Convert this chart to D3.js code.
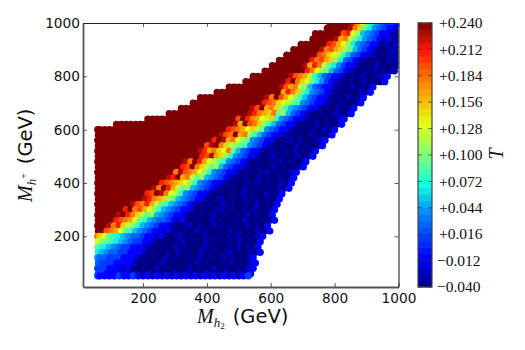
<!DOCTYPE html>
<html>
<head>
<meta charset="utf-8">
<script src="https://cdn.jsdelivr.net/npm/d3@7"></script>
<style>
html, body { margin: 0; padding: 0; background: white; }
svg { display: block; }
text { fill: #111; }
.tick text { font-family: "DejaVu Sans"; font-size: 13.7px; }
.cbar text { font-family: "Liberation Serif"; font-size: 15.5px; }
.lab { font-family: "DejaVu Sans"; font-size: 19.5px; }
.lab .m { font-family: "Liberation Serif"; font-style: italic; font-size: 20px; }
</style>
</head>
<body>
<div id="container"></div>
<script>
// values
var mh2Even = [58,65,80,95,110,125,140,155,170,185,200,215,230,245,260,275,290,305,320,335,350,365,380,395,410,425,440,455,470,485,500,515,530,545,560,575,590,605,620,635,650,665,680,695,710,725,740,755,770,785,800,815,830,845,860,875,890,905,920,935,950,965,980,995];
var mh2Odd = [60,72,87,102,117,132,147,162,177,192,207,222,237,252,267,282,297,312,327,342,357,372,387,402,417,432,447,462,477,492,507,522,537,552,567,582,597,612,627,642,657,672,687,702,717,732,747,762,777,792,807,822,837,852,867,882,897,912,927,942,957,972,987,1002];
var mhpValues = [1000,980,960,940,920,900,880,860,840,820,800,780,760,740,720,700,680,660,640,620,600,580,560,540,520,500,480,460,440,420,400,380,360,340,320,300,280,260,240,220,200,180,160,140,120,100,80,60,52];

// T per letter
var tLetters = "abcdefghijklmnopqrstu";
var tLevels = [-0.04,-0.034,-0.024,-0.008,0.012,0.026,0.04,0.052,0.066,0.08,0.094,0.108,0.12,0.134,0.15,0.165,0.18,0.195,0.21,0.228,0.24];

// first filled column of each row, then how many saturated points before the band
var rowStart = [49,48,46,45,43,41,40,38,37,35,33,31,28,25,22,20,18,15,11,4,0,0,0,0,0,0,0,0,0,0,0,0,0,0,0,0,0,0,0,0,0,0,0,0,0,0,0,0,0];
var redRun = [5,5,6,5,6,6,6,7,7,8,8,9,11,13,14,15,15,17,19,25,27,26,25,23,22,21,19,18,16,15,13,12,11,9,8,6,5,4,3,1,0,0,0,0,0,0,0,0,0];
var bandRows = [
"spnkigfeed",
"tqokigfeddc",
"rsnlhgfeddcb",
"tpqmkigfedcdbc",
"srpnligfeddbcac",
"tqrpolkhfedcbabcb",
"urqonmjhfeddcabacb",
"sqrpolifedcbabaacbc",
"tpsqmkigeddcabacabab",
"usqnlkhfedcbabacabac",
"trqpmjhfeddcabacaabcd",
"suqonkigedcbabaacabad",
"trpqmlhfeddcabacabad",
"upsqokigfedcbabaacbd",
"tqurpnljhfeddcabacabd",
"srqonmkjgfeddcbabaabd",
"trupqoljhgfeddcabacabd",
"tsqpoqklhfedcbabaacbad",
"rusqpnmojgfeddcabaabacd",
"tpurqoljhfeddbabacabaad",
"usrqpnomkgfeddcabaabacad",
"trqupqljhfeddcbabaacabad",
"sutpqnlkgfeddbabcabaabcd",
"rtuqomlkjgfedcbabaacabaad",
"tspqonqkhfeddcabaabacabad",
"usrtpoljgfeddbabcabaacabd",
"tquspnmkjgfedcabaabacabaad",
"sruqomklhfeddcbabaacabaabd",
"uqtrqpnljgfeddcabaabcabaacd",
"tsupqmklhgfedcbabaacabaabad",
"usrqponljgfeddcabaabacabaacad",
"tquspmklhgfedcbabaacabaabacad",
"srutqnmjgfeddcabaabacabaacabd",
"utsqpolkhgfeddbabcabaacabaabad",
"trqspmkjhgfedcbabaacabaabacabad",
"suqrpnljhgfeddcabaabcabaabacaabd",
"tusqomklhgfeddcbabaacabaabacabaad",
"srqpnkjhgffedcdbabaacabaabacabaabd",
"tqsomljhgfeddcbabcabaacabaabacabad",
"urqpnkjhgfeddcdbabaacabaabacabaabcad",
"qonkjihgffeddcdbabcabaacabaabacabacd",
"nlkjihgfeeddcabaabcabaacabaabacabad",
"kjihgfeedddcbabaacabaabcabaabacabad",
"ihgffeedddcabaabacabaacabaabcabacad",
"gffeeedddcbabaacabaabacabaacabaabd",
"feeeddddcabaabcabaabacabaabacabacd",
"eeedddcdbabaacabaabacabaacabaabacd",
"eedddcdcbabcabaacabcabacbabcbacbd",
"eddddeddedcdcdcdcdcdcdcdcdcdcdcde"
];

var xTicks = [200,400,600,800,1000];
var yTicks = [200,400,600,800,1000];
var cbarTicks = [-0.04,-0.012,0.016,0.044,0.072,0.1,0.128,0.156,0.184,0.212,0.24];
var cbarLabels = ["\u22120.040","\u22120.012","+0.016","+0.044","+0.072","+0.100","+0.128","+0.156","+0.184","+0.212","+0.240"];

// jet colormap stops
var jetStops = ["#00007f","#0000ff","#007fff","#16ffe0","#7dff7a","#e3ff13","#ff9800","#ff1e00","#7f0000"];
var jet = d3.scaleLinear().domain([0,0.11,0.27,0.39,0.5,0.62,0.75,0.89,1]).range(jetStops).clamp(true);
var tColor = function(t) { return jet((t + 0.04) / 0.28); };

var points = [];
bandRows.forEach(function(row, r) {
    var xs = r % 2 ? mh2Odd : mh2Even;
    var i = rowStart[r];
    for (var k = 0; k < redRun[r]; k++) {
        points.push({x: xs[i++], y: mhpValues[r], t: 0.24});
    }
    for (var c = 0; c < row.length; c++) {
        points.push({x: xs[i++], y: mhpValues[r], t: tLevels[tLetters.indexOf(row[c])]});
    }
});

var svg = d3.select("#container").append("svg")
    .attr("width", 525)
    .attr("height", 350);

var x = d3.scaleLinear().domain([12,1000]).range([83,398.5]);
var y = d3.scaleLinear().domain([10,1000]).range([287,23]);

svg.append("clipPath").attr("id","plotclip").append("rect")
    .attr("x",83).attr("y",23).attr("width",315.5).attr("height",264);

svg.append("g").attr("clip-path","url(#plotclip)")
    .selectAll("circle")
    .data(points)
    .enter()
    .append("circle")
    .attr("cx", function(d) { return x(d.x); })
    .attr("cy", function(d) { return y(d.y); })
    .attr("r", 3.6)
    .attr("fill", function(d) { return tColor(d.t); });

function styleAxis(g, strong) {
    g.selectAll(".domain").attr("stroke", strong ? "#555" : "#222").attr("stroke-width", strong ? 1.8 : 1.1);
    g.selectAll(".tick line").attr("stroke", "#333").attr("stroke-width", 0.8);
}

svg.append("g").attr("transform","translate(0,287)")
    .call(d3.axisBottom(x).tickValues(xTicks).tickSizeInner(-4).tickSizeOuter(0).tickPadding(6).tickFormat(d3.format("d")))
    .call(styleAxis, true);
svg.append("g").attr("transform","translate(83,0)")
    .call(d3.axisLeft(y).tickValues(yTicks).tickSizeInner(-4).tickSizeOuter(0).tickPadding(3).tickFormat(d3.format("d")))
    .call(styleAxis, true);
svg.append("g").attr("transform","translate(0,23)")
    .call(d3.axisTop(x).tickValues(xTicks).tickSizeInner(-4).tickSizeOuter(0).tickFormat(""))
    .call(styleAxis, false);
svg.append("g").attr("transform","translate(398.5,0)")
    .call(d3.axisRight(y).tickValues(yTicks).tickSizeInner(-4).tickSizeOuter(0).tickFormat(""))
    .call(styleAxis, false);

// colour bar
var cbarY = d3.scaleLinear().domain([-0.04,0.24]).range([287,23]);
var cbarSteps = d3.range(-0.04, 0.24, 0.007);
var cbar = svg.append("g").attr("class","cbar");
cbar.selectAll("rect.step")
    .data(cbarSteps)
    .enter()
    .append("rect")
    .attr("class","step")
    .attr("x",418).attr("width",14)
    .attr("y", function(d) { return cbarY(d + 0.007) - 0.3; })
    .attr("height", function(d) { return cbarY(d) - cbarY(d + 0.007) + 0.6; })
    .attr("fill", function(d) { return tColor(d + 0.0035); });
cbar.append("rect")
    .attr("x",418).attr("y",23).attr("width",14).attr("height",264)
    .attr("fill","none").attr("stroke","#444").attr("stroke-width",1.2);
cbarTicks.forEach(function(t, i) {
    cbar.append("line").attr("x1",418).attr("x2",422).attr("y1",cbarY(t)).attr("y2",cbarY(t)).attr("stroke","#333").attr("stroke-width",0.7);
    cbar.append("line").attr("x1",428).attr("x2",432).attr("y1",cbarY(t)).attr("y2",cbarY(t)).attr("stroke","#333").attr("stroke-width",0.7);
    cbar.append("text").attr("x",i < 2 ? 437 : 439).attr("y",cbarY(t)).attr("dy","0.33em").text(cbarLabels[i]);
});

// axis titles
var xl = svg.append("text").attr("class","lab").attr("x",197).attr("y",323);
xl.append("tspan").attr("class","m").text("M");
xl.append("tspan").attr("class","m").attr("dy",4).style("font-size","13px").text("h");
xl.append("tspan").attr("dy",2).style("font-size","9px").style("font-family","Liberation Serif").text("2");
xl.append("tspan").attr("dy",-6).attr("dx",8).text("(GeV)");

var yl = svg.append("text").attr("class","lab").attr("transform","translate(32,202) rotate(-90)");
yl.append("tspan").attr("class","m").text("M");
yl.append("tspan").attr("class","m").attr("dy",4).style("font-size","13px").text("h");
yl.append("tspan").attr("dy",-9).style("font-size","10px").style("font-family","Liberation Serif").text("+");
yl.append("tspan").attr("dy",5).attr("dx",9).text("(GeV)");

svg.append("text").attr("transform","translate(503,154) rotate(-90)")
    .attr("text-anchor","middle")
    .style("font-family","Liberation Serif").style("font-style","italic").style("font-size","20px")
    .text("T");
</script>
</body>
</html>
